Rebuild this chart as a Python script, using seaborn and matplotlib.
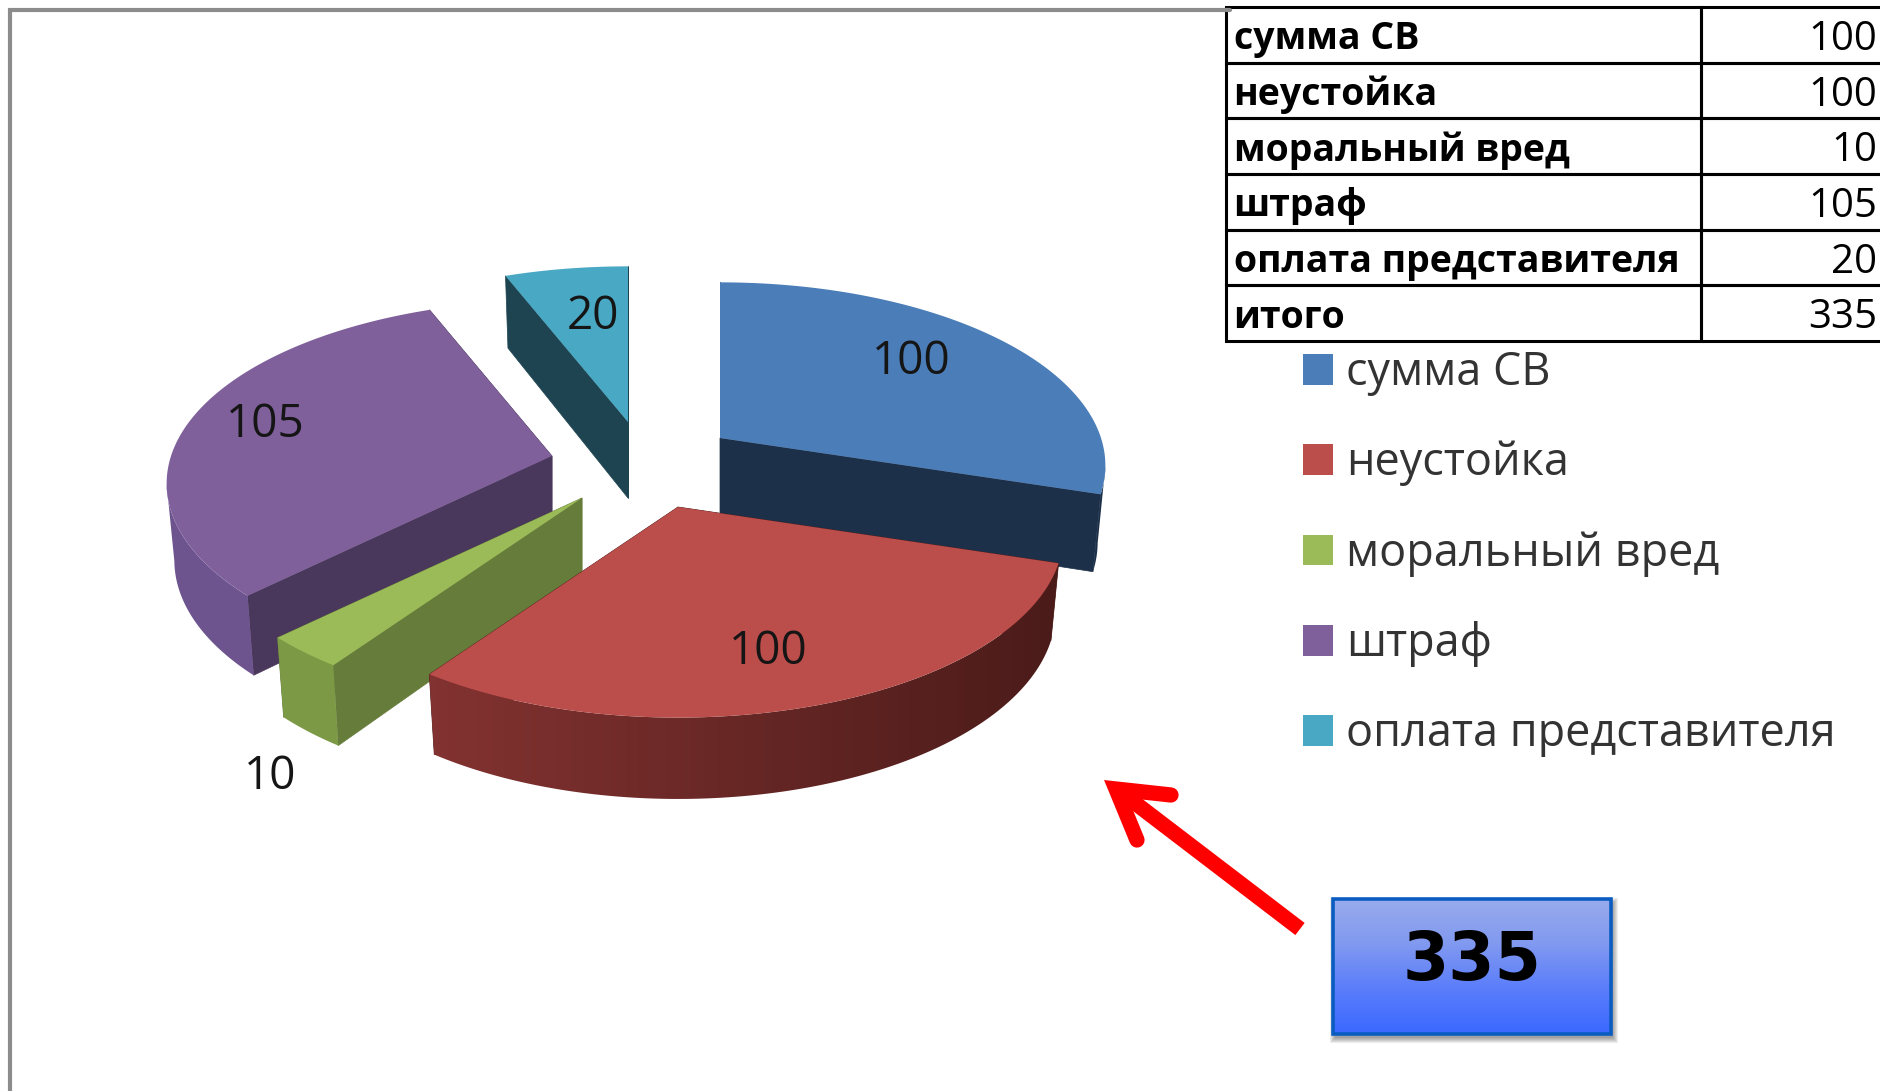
# -*- coding:utf-8 -*-

import numpy as np
import matplotlib
matplotlib.use("Agg")
import matplotlib.pyplot as plt
from matplotlib.colors import LinearSegmentedColormap
from matplotlib.patches import Patch, Polygon, Rectangle
import seaborn as sns

categories = ["сумма СВ", "неустойка", "моральный вред", "штраф", "оплата представителя"]
values = [100, 100, 10, 105, 20]
total_label = "итого"
total = 335

# layout, in pixels of the picture
W, H = 1881, 1091
RX, RY, PERSP = 381, 179, 0.15
THICK = 76
apex = [(720, 438), (678, 507), (582, 498), (552, 456), (628, 422)]
label_pos = [(911, 362), (768, 652), (270, 777), (265, 425), (593, 317)]

top_colors = ["#4b7db8", "#bb4d4a", "#9bbb59", "#7f609b", "#49a8c3"]
cut_colors = ["#1d3049", "#4f1e1c", "#667c3a", "#4a385c", "#1d4450"]
wall_colors = [("#1d3049", "#1d3049"), ("#8f3836", "#4a1b19"), ("#7c9a46", "#7c9a46"),
               ("#6f5590", "#664e80"), ("#1d4450", "#1d4450")]

sns.set_theme(style="white")
plt.rcParams["font.family"] = ["Open Sans", "DejaVu Sans"]


def project(theta, centre, bottom=False):
    u, v = np.cos(theta), np.sin(theta)
    s = 1 / (1 + PERSP * v)
    x = RX * u * s
    y = -RY * v * s
    if bottom:
        x = x * 0.98
        y = y + THICK * (1 + 0.4 * (s - 1))
    return centre[0] + x, centre[1] + y


def draw_slice(ax, start, end, centre, top, cut, wall, z):
    base = (centre[0], centre[1] + THICK)

    # cut faces, the one nearer the viewer last
    for a in sorted([start, end], key=lambda t: -np.sin(t)):
        x0, y0 = project(a, centre)
        x1, y1 = project(a, centre, bottom=True)
        ax.fill([centre[0], x0, x1, base[0]], [centre[1], y0, y1, base[1]],
                color=cut, lw=0.5, zorder=z)

    # outer wall, from the widest point of the ellipse forward, shaded left to right
    theta = np.linspace(start, end, 240)
    theta = theta[np.sin(theta) < -PERSP]
    if len(theta) > 1:
        xs, ys = project(theta, centre)
        xb, yb = project(theta, centre, bottom=True)
        poly = Polygon(np.c_[np.r_[xs, xb[::-1]], np.r_[ys, yb[::-1]]], closed=True,
                       facecolor="none", edgecolor="none", transform=ax.transData)
        ax.add_patch(poly)
        shade = LinearSegmentedColormap.from_list("wall", list(wall))
        lo, hi = centre[0] - RX - 10, centre[0] + RX + 10
        im = ax.imshow(np.linspace(0, 1, 256)[None, :], cmap=shade, aspect="auto",
                       extent=(lo, hi, H, 0), zorder=z + 0.1)
        im.set_clip_path(poly)

    theta = np.linspace(start, end, 120)
    xs, ys = project(theta, centre)
    ax.fill(np.r_[centre[0], xs], np.r_[centre[1], ys], color=top, lw=0, zorder=z + 0.2)


fig = plt.figure(figsize=(W / 100, H / 100), dpi=100)
ax = fig.add_axes([0, 0, 1, 1])

# frame of the pasted chart
ax.plot([10, 10, 1230], [H, 10, 10], color="#8c8c8c", lw=3, solid_joinstyle="miter")

# pie slices, clockwise from the top
palette = sns.color_palette(top_colors)
angles = np.pi / 2 - np.r_[0, np.cumsum(values)] / sum(values) * 2 * np.pi
order = [4, 0, 3, 2, 1]
for n, i in enumerate(order):
    draw_slice(ax, angles[i], angles[i + 1], apex[i], palette[i], cut_colors[i], wall_colors[i], 1 + n * 0.4)

for v, (x, y) in zip(values, label_pos):
    ax.text(x, y, str(v), ha="center", va="center", fontsize=33, color="#151515", zorder=4)

# legend
handles = [Patch(facecolor=c, edgecolor="none") for c in palette]
ax.legend(handles, categories, loc="upper left", bbox_to_anchor=(1303, 350), bbox_transform=ax.transData,
          frameon=False, fontsize=32.4, handlelength=0.67, handleheight=0.67, handletextpad=0.28,
          labelspacing=0.985, borderpad=0, borderaxespad=0, labelcolor="#333333")

# table, its right edge runs off the picture
rows = [[c, str(v)] for c, v in zip(categories, values)] + [[total_label, str(total)]]
left, right, top_y, bottom_y = 1226, 1905, 7, 341
table = ax.table(cellText=rows, colWidths=[(1701 - left) / W, (right - 1701) / W],
                 bbox=[left / W, 1 - bottom_y / H, (right - left) / W, (bottom_y - top_y) / H])
table.auto_set_font_size(False)
for (r, c), cell in table.get_celld().items():
    cell.set_edgecolor("black")
    cell.set_linewidth(2.2)
    cell.set_facecolor("none")
    if c == 0:
        cell.PAD = 0.016
        cell.set_text_props(ha="left", va="center_baseline", fontweight="bold", fontsize=27, color="black")
    else:
        cell.PAD = 0.135
        cell.set_text_props(ha="right", va="center_baseline", fontsize=29, color="black")

# red arrow
ax.plot([1300, 1118], [929, 790], color="#ff0000", lw=11, solid_capstyle="butt")
ax.plot([1171, 1116, 1137], [795, 789, 840], color="#ff0000", lw=11,
        solid_capstyle="round", solid_joinstyle="miter")

# box with the total
bx0, bx1, by0, by1 = 1333, 1611, 899, 1034
for k in range(6):
    ax.add_patch(Rectangle((bx0 - k + 2, by0 + 4 - k), bx1 - bx0 + 2 * k, by1 - by0 + 2 * k,
                           facecolor="black", edgecolor="none", alpha=0.07))
cmap = LinearSegmentedColormap.from_list("box", ["#98abec", "#8199f0", "#5a7dfb", "#3a68ff"])
ax.imshow(np.linspace(0, 1, 256)[:, None], cmap=cmap, aspect="auto", extent=(bx0, bx1, by1, by0), zorder=3)
ax.add_patch(Rectangle((bx0, by0), bx1 - bx0, by1 - by0, facecolor="none", edgecolor="#0a5cc0", lw=2.6, zorder=4))
ax.text((bx0 + bx1) / 2, 961, str(total), ha="center", va="center", fontsize=48,
        fontweight="bold", family="DejaVu Sans", color="black", zorder=5)

ax.set_xlim(0, W)
ax.set_ylim(H, 0)
ax.set_xticks([])
ax.set_yticks([])
sns.despine(ax=ax, left=True, bottom=True)
fig.savefig("out.png", dpi=100, facecolor="white")
